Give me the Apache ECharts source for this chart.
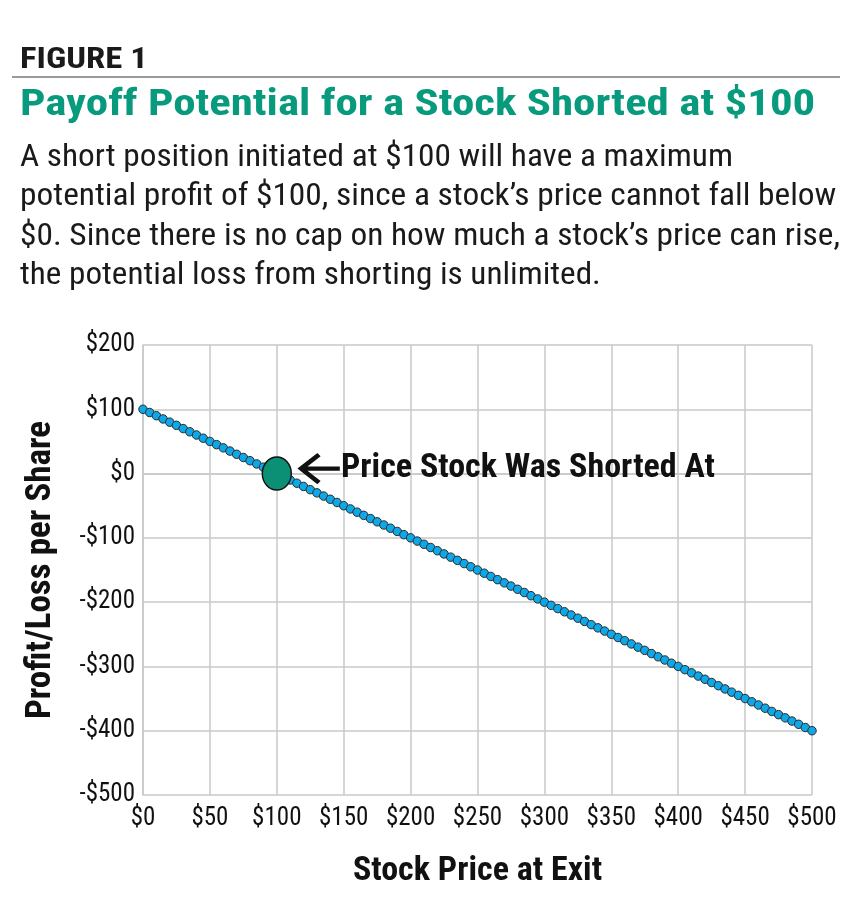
<!DOCTYPE html>
<html>
<head>
<meta charset="utf-8">
<script src="https://cdn.jsdelivr.net/npm/echarts@6/dist/echarts.min.js"></script>
<style>
  html, body { margin: 0; padding: 0; background: #fff; }
  #wrap { position: relative; width: 867px; height: 907px; overflow: hidden; }
  #chart { position: absolute; left: 0; top: 0; width: 867px; height: 907px; }
  .hd { position: absolute; left: 20px; white-space: nowrap; transform-origin: 0 0; line-height: 1;
        font-family: 'Roboto Condensed', 'Liberation Sans Narrow', Roboto, sans-serif; }
  #fig { top: 44px; font-size: 29px; font-weight: 700; color: #1a1a1a; }
  #rule { position: absolute; left: 12px; top: 76px; width: 828px; height: 2px; background: #9a9a9a; }
  #title { top: 84px; font-size: 37px; font-weight: 700; color: #079a7d; }
  .body { font-size: 30.5px; color: #1a1a1a; }
</style>
</head>
<body>
<div id="wrap">
  <div id="chart"></div>
  <div id="fig" class="hd" data-w="128">FIGURE 1</div>
  <div id="rule"></div>
  <div id="title" class="hd" data-w="795">Payoff Potential for a Stock Shorted at $100</div>
  <div class="hd body" style="top:141px" data-w="713">A short position initiated at $100 will have a maximum</div>
  <div class="hd body" style="top:180px" data-w="816">potential profit of $100, since a stock’s price cannot fall below</div>
  <div class="hd body" style="top:220px" data-w="820">$0. Since there is no cap on how much a stock’s price can rise,</div>
  <div class="hd body" style="top:259px" data-w="581">the potential loss from shorting is unlimited.</div>
</div>
<script>
// stock price at exit ($) and payoff of the short position ($)
var prices = [0,5,10,15,20,25,30,35,40,45,50,55,60,65,70,75,80,85,90,95,100,105,110,115,120,125,130,135,140,145,150,155,160,165,170,175,180,185,190,195,200,205,210,215,220,225,230,235,240,245,250,255,260,265,270,275,280,285,290,295,300,305,310,315,320,325,330,335,340,345,350,355,360,365,370,375,380,385,390,395,400,405,410,415,420,425,430,435,440,445,450,455,460,465,470,475,480,485,490,495,500];
var payoff = [100,95,90,85,80,75,70,65,60,55,50,45,40,35,30,25,20,15,10,5,0,-5,-10,-15,-20,-25,-30,-35,-40,-45,-50,-55,-60,-65,-70,-75,-80,-85,-90,-95,-100,-105,-110,-115,-120,-125,-130,-135,-140,-145,-150,-155,-160,-165,-170,-175,-180,-185,-190,-195,-200,-205,-210,-215,-220,-225,-230,-235,-240,-245,-250,-255,-260,-265,-270,-275,-280,-285,-290,-295,-300,-305,-310,-315,-320,-325,-330,-335,-340,-345,-350,-355,-360,-365,-370,-375,-380,-385,-390,-395,-400];
var shortPrice = [100];
var shortPayoff = [0];
var shortLabel = 'Price Stock Was Shorted At';

// squeeze header lines to the width they take in the figure
document.querySelectorAll('.hd').forEach(function (el) {
  var w = +el.getAttribute('data-w');
  el.style.transform = 'scaleX(' + (w / el.scrollWidth) + ')';
});

var font = "'Roboto Condensed','Liberation Sans Narrow',Roboto,sans-serif";
function money(v) { return (v < 0 ? '-$' : '$') + Math.abs(v); }

// open-headed arrow used in the annotation label
var arrowSvg = 'data:image/svg+xml;charset=utf-8,' + encodeURIComponent(
  '<svg xmlns="http://www.w3.org/2000/svg" width="38" height="32" viewBox="0 0 38 32">' +
  '<path d="M37 16H3M19 2L3.5 16L19 30" fill="none" stroke="#111" stroke-width="4.2"/></svg>');

var chart = echarts.init(document.getElementById('chart'));
chart.setOption({
  animation: false,
  textStyle: { fontFamily: font },
  grid: { left: 143, right: 55, top: 345, bottom: 112 },
  xAxis: {
    type: 'value', min: 0, max: 500, interval: 50,
    name: 'Stock Price at Exit', nameLocation: 'middle', nameGap: 59,
    nameTextStyle: { fontSize: 34, fontWeight: 'bold', color: '#111', fontFamily: font },
    axisLine: { show: true, lineStyle: { color: '#c9c9c9', width: 1.5 } },
    axisTick: { show: false },
    splitLine: { show: true, lineStyle: { color: '#c9c9c9', width: 1.5 } },
    axisLabel: { formatter: money, fontSize: 25, color: '#111', margin: 11, fontFamily: font }
  },
  yAxis: {
    type: 'value', min: -500, max: 200, interval: 100,
    name: 'Profit/Loss per Share', nameLocation: 'middle', nameGap: 84, nameRotate: 90,
    nameTextStyle: { fontSize: 35, fontWeight: 'bold', color: '#111', fontFamily: font },
    axisLine: { show: true, lineStyle: { color: '#c9c9c9', width: 1.5 } },
    axisTick: { show: false },
    splitLine: { show: true, lineStyle: { color: '#c9c9c9', width: 1.5 } },
    axisLabel: { formatter: money, fontSize: 25, color: '#111', margin: 8, verticalAlign: 'middle', padding: [0, 0, 8, 0], fontFamily: font }
  },
  series: [
    {
      type: 'line',
      data: prices.map(function (p, i) { return [p, payoff[i]]; }),
      showAllSymbol: true,
      symbol: 'circle', symbolSize: 8.5,
      lineStyle: { color: '#333', width: 1 },
      itemStyle: { color: '#0ea8e8', borderColor: '#2a2a2a', borderWidth: 1 },
      z: 2
    },
    {
      type: 'scatter',
      data: shortPrice.map(function (p, i) { return [p, shortPayoff[i]]; }),
      symbol: 'circle', symbolSize: [29, 33],
      itemStyle: { color: '#0b8f75', borderColor: '#111', borderWidth: 1.5, opacity: 1 },
      label: {
        show: true, position: 'right', distance: 5, offset: [0, -5],
        formatter: '{arr|}' + shortLabel,
        fontSize: 34, fontWeight: 'bold', color: '#111', fontFamily: font,
        rich: { arr: { width: 36, height: 32, padding: [0, 8, 0, 0], backgroundColor: { image: arrowSvg } } }
      },
      z: 5
    }
  ]
});
</script>
</body>
</html>
